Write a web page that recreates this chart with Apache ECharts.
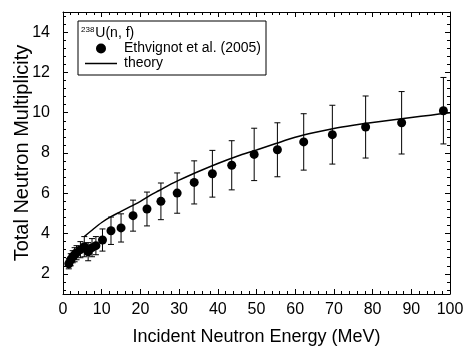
<!DOCTYPE html>
<html><head><meta charset="utf-8">
<script src="https://cdn.jsdelivr.net/npm/echarts@6/dist/echarts.min.js"></script>
<style>html,body{margin:0;padding:0;background:#fff}#c{width:468px;height:348px}</style>
</head><body><div id="c"></div>
<script>
// Experimental data (Ethvignot et al. 2005)
const energy = [1.5, 2.0, 2.5, 3.0, 3.5, 4.5, 5.5, 6.5, 7.5, 8.5, 10.2, 12.4, 15.0, 18.1, 21.7, 25.3, 29.5, 33.9, 38.6, 43.6, 49.4, 55.4, 62.2, 69.6, 78.2, 87.5, 98.3];
const multiplicity = [2.5, 2.7, 2.85, 2.95, 3.05, 3.2, 3.35, 3.1, 3.3, 3.4, 3.68, 4.14, 4.28, 4.89, 5.22, 5.6, 6.01, 6.54, 6.97, 7.39, 7.93, 8.16, 8.55, 8.91, 9.29, 9.5, 10.1];
const errors = [0.25, 0.3, 0.3, 0.35, 0.35, 0.4, 0.5, 0.45, 0.45, 0.45, 0.55, 0.68, 0.7, 0.77, 0.84, 0.91, 1.0, 1.07, 1.16, 1.22, 1.3, 1.34, 1.4, 1.46, 1.54, 1.55, 1.65];
// Theory curve
const theoryE = [5.5, 8, 10, 12.5, 15, 17.5, 20, 22.5, 25, 27.5, 30, 35, 40, 45, 50, 55, 60, 65, 70, 75, 80, 85, 90, 95, 100];
const theoryM = [3.85, 4.25, 4.55, 4.85, 5.1, 5.35, 5.6, 5.9, 6.15, 6.42, 6.65, 7.08, 7.48, 7.84, 8.15, 8.47, 8.78, 9.02, 9.22, 9.38, 9.52, 9.64, 9.76, 9.88, 10.0];
// Axis ticks
const yMajorTicks = [2, 4, 6, 8, 10, 12, 14];
const yMinorTicks = [1.2, 1.6, 2.4, 2.8, 3.2, 3.6, 4.4, 4.8, 5.2, 5.6, 6.4, 6.8, 7.2, 7.6, 8.4, 8.8, 9.2, 9.6, 10.4, 10.8, 11.2, 11.6, 12.4, 12.8, 13.2, 13.6, 14.4, 14.8];

const FONT = 'Liberation Sans, Arial, sans-serif';
const chart = echarts.init(document.getElementById('c'), null, {renderer: 'canvas'});

const scatterData = energy.map((e, i) => [e, multiplicity[i]]);
const errData = energy.map((e, i) => [e, multiplicity[i] - errors[i], multiplicity[i] + errors[i]]);
const theoryData = theoryE.map((e, i) => [e, theoryM[i]]);

function yAxisDef(pos, values, len, showLine, showLabel) {
  return {
    type: 'value', min: 1, max: 15, position: pos,
    axisLine: {show: showLine, lineStyle: {color: '#000', width: 1}},
    axisTick: {show: true, inside: true, length: len, customValues: values, lineStyle: {color: '#000', width: 1}},
    axisLabel: {show: showLabel, customValues: yMajorTicks, color: '#000', fontSize: 16, fontFamily: FONT, margin: 13},
    splitLine: {show: false},
    name: showLabel ? 'Total Neutron Multiplicity' : '',
    nameLocation: 'middle', nameGap: 31, nameMoveOverlap: false,
    nameTextStyle: {color: '#000', fontSize: 20, fontFamily: FONT}
  };
}
function xAxisDef(pos, showLabel) {
  return {
    type: 'value', min: 0, max: 100, interval: 10, position: pos,
    axisLine: {show: true, lineStyle: {color: '#000', width: 1}},
    axisTick: {show: true, inside: true, length: 5, lineStyle: {color: '#000', width: 1}},
    minorTick: {show: true, splitNumber: 5, length: 3, lineStyle: {color: '#000', width: 1}},
    axisLabel: {show: showLabel, color: '#000', fontSize: 16, fontFamily: FONT, margin: 8},
    splitLine: {show: false},
    name: showLabel ? 'Incident Neutron Energy (MeV)' : '',
    nameLocation: 'middle', nameGap: 34, nameMoveOverlap: false,
    nameTextStyle: {color: '#000', fontSize: 18, fontFamily: FONT}
  };
}

chart.setOption({
  animation: false,
  backgroundColor: '#fff',
  grid: {left: 63, right: 18, top: 12, bottom: 54, containLabel: false, outerBoundsMode: 'none'},
  xAxis: [xAxisDef('bottom', true), xAxisDef('top', false)],
  yAxis: [
    yAxisDef('left', yMajorTicks, 5, true, true),
    yAxisDef('left', yMinorTicks, 3, false, false),
    yAxisDef('right', yMajorTicks, 5, true, false),
    yAxisDef('right', yMinorTicks, 3, false, false)
  ],
  legend: {
    show: true, orient: 'vertical', left: 85, top: 41, padding: 0,
    itemWidth: 32, itemHeight: 10, itemGap: 0,
    textStyle: {color: '#000', fontSize: 14, fontFamily: FONT, lineHeight: 15, padding: [0, 0, 0, 2]},
    data: [
      {name: 'Ethvignot et al. (2005)', icon: 'circle', itemStyle: {color: '#000', opacity: 1}},
      {name: 'theory', icon: 'path://M0,0h32v1.5h-32z', itemStyle: {color: '#000'}}
    ]
  },
  graphic: [
    {type: 'rect', left: 75.5, top: 18.5, shape: {width: 188, height: 54}, style: {fill: 'none', stroke: '#000', lineWidth: 1}, z: 100},
    {type: 'text', left: 81, top: 26, z: 100,
     style: {text: '{sup|238}{main|U(n, f)}', rich: {
       sup: {fontSize: 8, fontFamily: FONT, fill: '#000', verticalAlign: 'top', padding: [0, 1, 6, 0]},
       main: {fontSize: 14, fontFamily: FONT, fill: '#000'}
     }}}
  ],
  series: [
    {
      type: 'custom', name: 'errorbars', xAxisIndex: 0, yAxisIndex: 0, data: errData, z: 2,
      renderItem: function (params, api) {
        const x = api.value(0);
        const lo = api.coord([x, api.value(1)]);
        const hi = api.coord([x, api.value(2)]);
        const cap = 3;
        const st = {stroke: '#000', lineWidth: 1};
        return {type: 'group', children: [
          {type: 'line', shape: {x1: lo[0], y1: lo[1], x2: hi[0], y2: hi[1]}, style: st},
          {type: 'line', shape: {x1: lo[0] - cap, y1: lo[1], x2: lo[0] + cap, y2: lo[1]}, style: st},
          {type: 'line', shape: {x1: hi[0] - cap, y1: hi[1], x2: hi[0] + cap, y2: hi[1]}, style: st}
        ]};
      }
    },
    {
      type: 'scatter', name: 'Ethvignot et al. (2005)', data: scatterData,
      symbol: 'circle', symbolSize: 9, itemStyle: {color: '#000', opacity: 1}, z: 3
    },
    {
      type: 'line', name: 'theory', data: theoryData, smooth: 0.3,
      symbol: 'none', showSymbol: false,
      lineStyle: {color: '#000', width: 1.5}, itemStyle: {color: '#000'}, z: 4
    }
  ]
});
</script>
</body></html>
